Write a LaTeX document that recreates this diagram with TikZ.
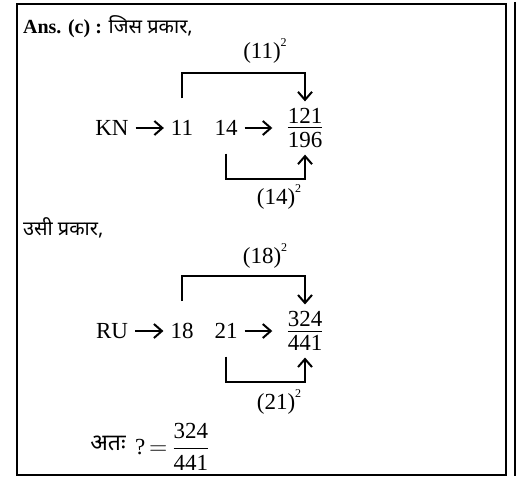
\documentclass[tikz,border=0pt]{standalone}
\usepackage{amsmath}
\usepackage{fontspec}
\setmainfont{Liberation Serif}
\newfontfamily\hindi[Script=Devanagari]{Noto Sans}
\usetikzlibrary{arrows.meta}
\newcommand{\sqlbl}[1]{(#1)\raisebox{0.55em}{\fontsize{6}{6}\selectfont 2}}
\newcommand{\numfrac}[2]{$\dfrac{\mbox{#1}}{\mbox{#2}}$}
\newcommand{\tightfrac}[2]{$\frac{\mbox{\rule[-1.4pt]{0pt}{1.4pt}#1}}{\mbox{\rule{0pt}{9pt}#2}}$}

\begin{document}
\begin{tikzpicture}[x=0.5pt,y=-0.5pt,font=\fontsize{11.5}{13}\selectfont,
  >={Straight Barb[length=4pt,width=7pt]},
  arr/.style={->,line width=1pt},
  hdr/.style={anchor=west,font=\fontsize{10}{12}\selectfont}]
  \useasboundingbox (0,0) rectangle (517,476);
  \draw[line width=1pt] (16.5,4.5) rectangle (506,475);
  \draw[line width=1pt] (514.5,2) -- (514.5,476);
  \node[hdr] (head) at (16,27) {\textbf{Ans. (c) :} {\hindi जिस प्रकार,}};
  % KN block
  \node (kn) at (112,128) {KN};
  \node (a11) at (182,128) {11};
  \node (a14) at (226,128) {14};
  \node (fa) at (305,128) {\tightfrac{121}{196}};
  \draw[arr] (kn) -- (a11);
  \draw[arr,shorten >=3pt] (a14) -- (fa);
  \draw[arr,shorten <=7.5pt] (a11.north) -- ++(0,-40) -| (fa.north);
  \draw[arr,shorten <=5.5pt] (a14.south) -- ++(0,36) -| (fa.south);
  \node (sqa) at (265,51) {\sqlbl{11}};
  \node (sqb) at (279,197) {\sqlbl{14}};
  % RU block
  \node[hdr] (same) at (16,228) {\hindi उसी प्रकार,};
  \node (ru) at (112,331) {RU};
  \node (b18) at (182,331) {18};
  \node (b21) at (226,331) {21};
  \node (fb) at (305,331) {\tightfrac{324}{441}};
  \draw[arr] (ru) -- (b18);
  \draw[arr,shorten >=3pt] (b21) -- (fb);
  \draw[arr,shorten <=7.5pt] (b18.north) -- ++(0,-40) -| (fb.north);
  \draw[arr,shorten <=5.5pt] (b21.south) -- ++(0,36) -| (fb.south);
  \node (sqc) at (265,256) {\sqlbl{18}};
  \node (sqd) at (279,402) {\sqlbl{21}};
  % result
  \node (ata) at (108,443) {\hindi अतः};
  \node[anchor=west] (res) at (128,447) {?\,$=$\,\numfrac{324}{441}};
\end{tikzpicture}
\end{document}
